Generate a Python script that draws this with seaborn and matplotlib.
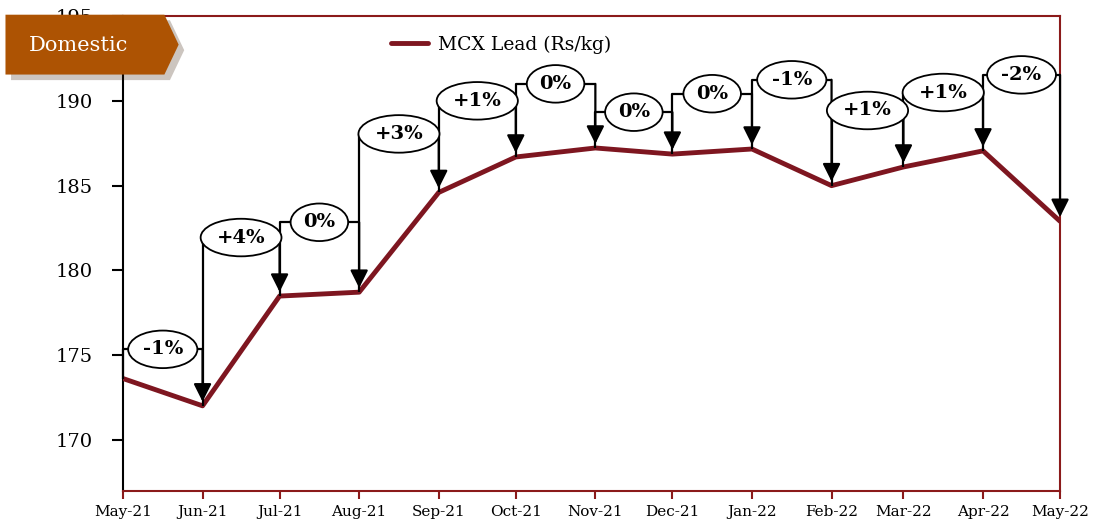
import numpy as np
import pandas as pd
import matplotlib
matplotlib.use("Agg")
import matplotlib.pyplot as plt
import matplotlib.dates as mdates
from matplotlib.patches import Polygon
import matplotlib.patheffects as pe
import seaborn as sns

# data
months = ["2021-05", "2021-06", "2021-07", "2021-08", "2021-09", "2021-10", "2021-11",
          "2021-12", "2022-01", "2022-02", "2022-03", "2022-04", "2022-05"]
prices = [173.63, 172.02, 178.49, 178.72, 184.60, 186.69, 187.22,
          186.86, 187.16, 185.00, 186.10, 187.05, 182.90]
change_labels = ["-1%", "+4%", "0%", "+3%", "+1%", "0%", "0%",
                 "0%", "-1%", "+1%", "+1%", "-2%"]
bracket_levels = [175.35, 181.94, 182.84, 188.05, 190.0, 191.0, 189.33,
                  190.42, 191.24, 189.43, 190.49, 191.53]

LINE_RED = "#7E1620"
FRAME_RED = "#8B1A1A"
SERIF = "DejaVu Serif"

sns.set_style("white")
plt.rcParams["font.family"] = [SERIF]
plt.rcParams["text.color"] = "black"
plt.rcParams["xtick.color"] = "black"
plt.rcParams["ytick.color"] = "black"

df = pd.DataFrame({"date": pd.to_datetime(months), "price": prices})

fig = plt.figure(figsize=(10.96, 5.25), dpi=100)
ax = fig.add_axes([0.1122, 0.0648, 0.8550, 0.9047])

sns.lineplot(data=df, x="date", y="price", ax=ax, color=LINE_RED, lw=3.5,
             label="MCX Lead (Rs/kg)", zorder=3)

# change brackets: up from point i, across, arrow down onto point i+1
dates = df["date"].tolist()
for i, lab in enumerate(change_labels):
    d0, d1 = dates[i], dates[i + 1]
    h = bracket_levels[i]
    ax.plot([d0, d0, d1], [prices[i], h, h], color="black", lw=1.6,
            zorder=4, clip_on=False, solid_capstyle="butt")
    ax.annotate("", xy=(d1, prices[i + 1]), xytext=(d1, h),
                arrowprops=dict(arrowstyle="-|>", color="black", lw=1.6,
                                mutation_scale=27, shrinkA=0, shrinkB=3),
                zorder=4, annotation_clip=False)
    mid = d0 + (d1 - d0) / 2
    ax.text(mid, h, lab, ha="center", va="center", fontsize=14,
            fontweight="bold", family=SERIF, zorder=5,
            bbox=dict(boxstyle="ellipse,pad=0.22", fc="white", ec="black", lw=1.3))

ax.set_xlim(dates[0], dates[-1])
ax.set_ylim(167, 195)
ax.set_yticks([170, 175, 180, 185, 190, 195])
ax.set_xticks(dates)
ax.xaxis.set_major_formatter(mdates.DateFormatter("%b-%y"))
ax.set_xlabel("")
ax.set_ylabel("")

for side in ["top", "right", "bottom"]:
    ax.spines[side].set_color(FRAME_RED)
    ax.spines[side].set_linewidth(1.5)
ax.spines["left"].set_color("black")
ax.spines["left"].set_linewidth(1.5)

ax.tick_params(axis="x", bottom=True, direction="out", length=6, width=1.5,
               color=FRAME_RED, labelcolor="black", labelsize=11, pad=4)
ax.tick_params(axis="y", left=True, direction="out", length=8, width=1.5,
               color="black", labelcolor="black", labelsize=14, pad=14)

ax.legend(loc="upper left", bbox_to_anchor=(0.268, 0.995), frameon=False,
          fontsize=13.5, handlelength=2.0, handletextpad=0.5)

# "Domestic" banner in the top left corner
banner = Polygon([[0.005, 0.972], [0.150, 0.972], [0.163, 0.915],
                  [0.150, 0.858], [0.005, 0.858]], closed=True,
                 transform=fig.transFigure, fc="#AD5303", ec="none", zorder=10,
                 path_effects=[pe.SimplePatchShadow(offset=(4, -4), alpha=0.25),
                               pe.Normal()])
fig.patches.append(banner)
fig.text(0.072, 0.914, "Domestic", ha="center", va="center", color="white",
         fontsize=15, family=SERIF, zorder=11)

fig.savefig("out.png", dpi=100)
